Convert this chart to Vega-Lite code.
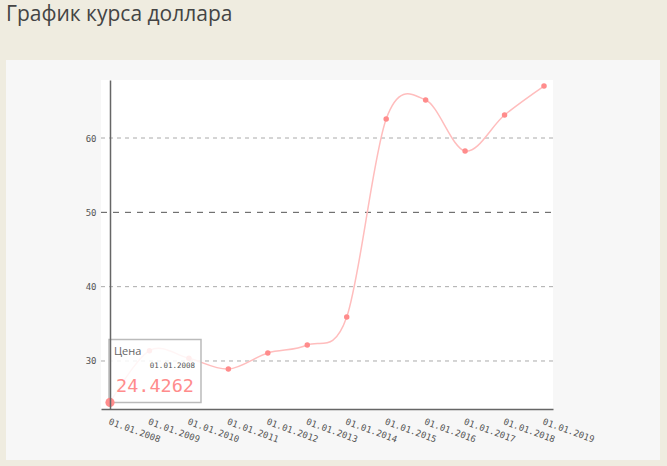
{
  "$schema": "https://vega.github.io/schema/vega-lite/v6.json",
  "width": 654,
  "height": 400,
  "autosize": "none",
  "padding": {"left": 6, "top": 60, "right": 7, "bottom": 6},
  "background": "#EFECE0",
  "title": {
    "text": "График курса доллара",
    "anchor": "start",
    "frame": "group",
    "offset": 35,
    "font": "Open Sans",
    "fontSize": 21,
    "fontWeight": "normal",
    "color": "#444444"
  },
  "data": {"values": [
      {"year": 2008, "date": "01.01.2008", "price": 24.4262},
      {"year": 2009, "date": "01.01.2009", "price": 31.39},
      {"year": 2010, "date": "01.01.2010", "price": 30.36},
      {"year": 2011, "date": "01.01.2011", "price": 28.92},
      {"year": 2012, "date": "01.01.2012", "price": 31.08},
      {"year": 2013, "date": "01.01.2013", "price": 32.15},
      {"year": 2014, "date": "01.01.2014", "price": 35.92},
      {"year": 2015, "date": "01.01.2015", "price": 62.56},
      {"year": 2016, "date": "01.01.2016", "price": 65.11},
      {"year": 2017, "date": "01.01.2017", "price": 58.25},
      {"year": 2018, "date": "01.01.2018", "price": 63.09},
      {"year": 2019, "date": "01.01.2019", "price": 66.99}
  ]},
  "layer": [
    {
      "data": {"values": [{}]},
      "mark": {"type": "rect", "fill": "#FFFFFF"},
      "encoding": {
        "x": {"datum": 2007.772},
        "x2": {"datum": 2019.228},
        "y": {"datum": 23.542},
        "y2": {"datum": 67.803}
      }
    },
    {
      "data": {"values": [{"value": 30}, {"value": 40}, {"value": 60}]},
      "mark": {"type": "rule", "color": "#AAAAAA", "strokeDash": [4, 4], "strokeWidth": 1},
      "encoding": {
        "x": {"datum": 2007.772},
        "x2": {"datum": 2019.228},
        "y": {"field": "value", "type": "quantitative"}
      }
    },
    {
      "data": {"values": [{"value": 50}]},
      "mark": {"type": "rule", "color": "#555555", "strokeDash": [6, 6], "strokeWidth": 1},
      "encoding": {
        "x": {"datum": 2007.772},
        "x2": {"datum": 2019.228},
        "y": {"field": "value", "type": "quantitative"}
      }
    },
    {
      "mark": {"type": "line", "interpolate": "cardinal", "color": "#FFBDBD", "strokeWidth": 1.5},
      "encoding": {
        "x": {
          "field": "year",
          "type": "quantitative",
          "scale": {"domain": [2007.772, 2019.228], "range": [95, 547], "nice": false, "zero": false},
          "axis": {
            "title": null,
            "values": [2008, 2009, 2010, 2011, 2012, 2013, 2014, 2015, 2016, 2017, 2018, 2019],
            "labelExpr": "'01.01.' + datum.value",
            "offset": -51,
            "grid": false,
            "ticks": false,
            "domainColor": "#666666",
            "domainWidth": 1.5,
            "labelAngle": 20,
            "labelAlign": "left",
            "labelBaseline": "top",
            "labelPadding": 8,
            "labelDx": 2,
            "labelOverlap": false,
            "labelFlush": false,
            "zindex": 1
          }
        },
        "y": {
          "field": "price",
          "type": "quantitative",
          "scale": {"domain": [23.542, 67.803], "range": [349, 20], "nice": false, "zero": false},
          "axis": {
            "title": null,
            "values": [30, 40, 50, 60],
            "offset": -104,
            "grid": false,
            "ticks": false,
            "domainColor": "#666666",
            "domainWidth": 1.5,
            "labelPadding": 14,
            "zindex": 1
          }
        }
      }
    },
    {
      "params": [
        {
          "name": "hover",
          "select": {"type": "point", "fields": ["year"], "on": "pointerover", "clear": false},
          "value": [{"year": 2008}]
        }
      ],
      "mark": {"type": "circle", "size": 30, "color": "#FF8C8C", "opacity": 1},
      "encoding": {
        "x": {"field": "year", "type": "quantitative"},
        "y": {"field": "price", "type": "quantitative"}
      }
    },
    {
      "transform": [{"filter": {"param": "hover"}}],
      "mark": {
        "type": "rect",
        "fill": "#FFFFFF",
        "fillOpacity": 0.85,
        "stroke": "#BBBBBB",
        "strokeWidth": 1.5,
        "xOffset": -1,
        "x2Offset": 91,
        "y2Offset": -63
      },
      "encoding": {
        "x": {"field": "year", "type": "quantitative"},
        "x2": {"field": "year"},
        "y": {"field": "price", "type": "quantitative"},
        "y2": {"field": "price"}
      }
    },
    {
      "transform": [{"filter": {"param": "hover"}}],
      "mark": {"type": "circle", "size": 85, "color": "#FF8C8C", "opacity": 1},
      "encoding": {
        "x": {"field": "year", "type": "quantitative"},
        "y": {"field": "price", "type": "quantitative"}
      }
    },
    {
      "transform": [{"filter": {"param": "hover"}}],
      "mark": {
        "type": "text",
        "align": "left",
        "baseline": "top",
        "dx": 4,
        "dy": -56,
        "font": "Open Sans",
        "fontSize": 11,
        "color": "#666666"
      },
      "encoding": {
        "x": {"field": "year", "type": "quantitative"},
        "y": {"field": "price", "type": "quantitative"},
        "text": {"value": "Цена"}
      }
    },
    {
      "transform": [{"filter": {"param": "hover"}}],
      "mark": {
        "type": "text",
        "align": "right",
        "baseline": "alphabetic",
        "dx": 85,
        "dy": -34,
        "font": "DejaVu Sans Mono",
        "fontSize": 7.5,
        "color": "#555555"
      },
      "encoding": {
        "x": {"field": "year", "type": "quantitative"},
        "y": {"field": "price", "type": "quantitative"},
        "text": {"field": "date"}
      }
    },
    {
      "transform": [{"filter": {"param": "hover"}}],
      "mark": {
        "type": "text",
        "align": "left",
        "baseline": "alphabetic",
        "dx": 6,
        "dy": -10,
        "font": "DejaVu Sans Mono",
        "fontSize": 18.5,
        "color": "#FF8C8C"
      },
      "encoding": {
        "x": {"field": "year", "type": "quantitative"},
        "y": {"field": "price", "type": "quantitative"},
        "text": {"field": "price", "type": "quantitative", "format": ".4f"}
      }
    }
  ],
  "config": {
    "view": {"fill": "#F7F7F7", "stroke": null},
    "axis": {
      "labelFont": "DejaVu Sans Mono",
      "labelFontSize": 9,
      "labelColor": "#555555"
    }
  }
}
